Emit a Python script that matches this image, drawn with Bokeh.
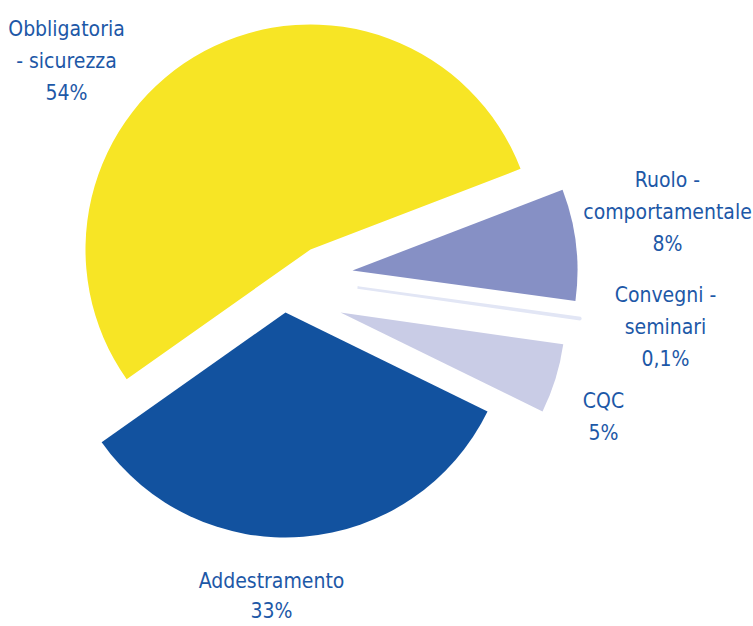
import math
from bokeh.plotting import figure
from bokeh.models import Range1d, ColumnDataSource
from bokeh.core.properties import value
from bokeh.embed import file_html
from bokeh.resources import INLINE

# ---- data ----
categories = ["Obbligatoria - sicurezza", "Addestramento", "CQC",
              "Convegni - seminari", "Ruolo - comportamentale"]
shares = [54, 33, 5, 0.1, 8]
share_labels = ["54%", "33%", "5%", "0,1%", "8%"]
name_lines = [["Obbligatoria", "- sicurezza"], ["Addestramento"], ["CQC"],
              ["Convegni -", "seminari"], ["Ruolo -", "comportamentale"]]

# ---- styles / layout ----
colors = ["#f7e525", "#12529f", "#c9cce6", "#e2e6f5", "#8690c5"]
outline_alpha = [0, 0, 0, 1, 0]
outline_width = [0, 0, 0, 2.5, 0]
start_deg = 21.0
radius = 225
center = (315, -280)
# explode offsets (dx, dy) in plot units for each slice
explode = [(-5, 31), (-30, -32), (25, -32), (42, -7), (37, 10)]
# label anchor (x, first line y) and line spacing per label
label_pos = [(66, -28), (271, -580), (603, -400), (665, -294), (667, -179)]
line_steps = [32, 30, 32, 32, 32]
text_color = "#1d58a7"
font = "DejaVu Sans Condensed"
font_size = "21px"

total = sum(shares)
starts, ends = [], []
acc = math.radians(start_deg)
for s in shares:
    a = s / total * 2 * math.pi
    starts.append(acc)
    ends.append(acc + a)
    acc += a

src = ColumnDataSource(dict(
    x=[center[0] + e[0] for e in explode],
    y=[center[1] + e[1] for e in explode],
    start=starts, end=ends, color=colors,
    la=outline_alpha, lw=outline_width, name=categories,
))

p = figure(width=753, height=626, output_backend="svg", toolbar_location=None,
           x_range=Range1d(0, 753), y_range=Range1d(-626, 0), min_border=0)
p.axis.visible = False
p.grid.visible = False
p.outline_line_color = None
p.background_fill_color = "white"

p.wedge(x="x", y="y", radius=radius, start_angle="start", end_angle="end",
        direction="anticlock", fill_color="color", line_color="color",
        line_alpha="la", line_width="lw", source=src)

tx, ty, tt = [], [], []
for i, lines in enumerate(name_lines):
    allines = lines + [share_labels[i]]
    x0, y0 = label_pos[i]
    for j, t in enumerate(allines):
        tx.append(x0)
        ty.append(y0 - j * line_steps[i])
        tt.append(t)

p.text(x=tx, y=ty, text=tt, text_align="center", text_baseline="alphabetic",
       text_color=text_color, text_font=value(font), text_font_size=font_size)

open("out.html", "w").write(file_html(p, INLINE))
